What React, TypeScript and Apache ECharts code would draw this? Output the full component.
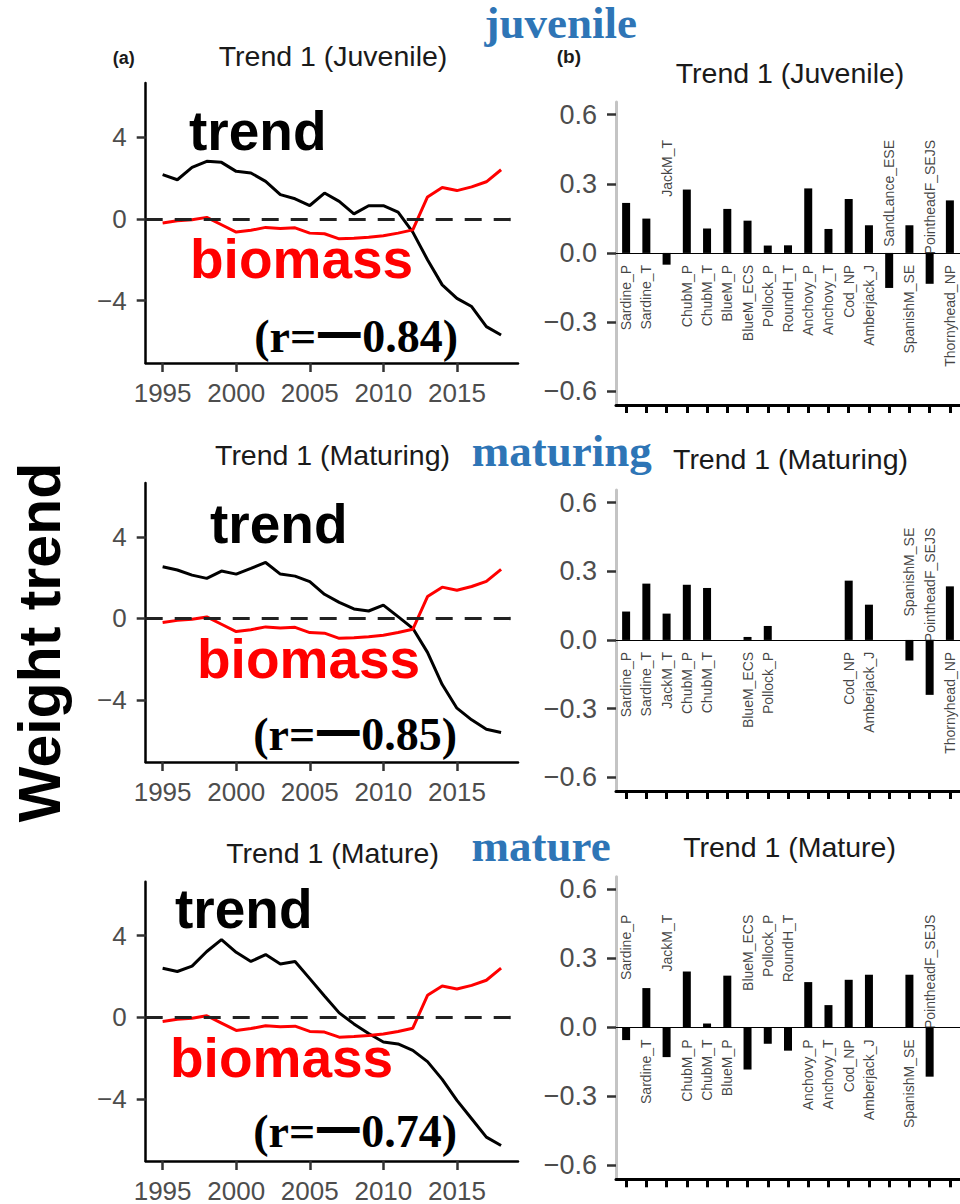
import React, { useEffect, useRef } from "react";
import * as echarts from "echarts";

// ---------- data ----------
const years = [1995, 1996, 1997, 1998, 1999, 2000, 2001, 2002, 2003, 2004, 2005, 2006, 2007, 2008, 2009, 2010, 2011, 2012, 2013, 2014, 2015, 2016, 2017, 2018];
const biomass = [-0.21, -0.1, -0.05, 0.07, -0.29, -0.65, -0.56, -0.42, -0.47, -0.44, -0.7, -0.73, -0.98, -0.95, -0.9, -0.83, -0.7, -0.54, 1.07, 1.53, 1.38, 1.56, 1.81, 2.4];
const trendJuvenile = [2.16, 1.91, 2.51, 2.81, 2.76, 2.32, 2.24, 1.83, 1.18, 0.98, 0.65, 1.26, 0.85, 0.24, 0.64, 0.64, 0.33, -0.65, -2.0, -3.23, -3.89, -4.29, -5.27, -5.68];
const trendMaturing = [2.53, 2.37, 2.12, 1.96, 2.32, 2.17, 2.45, 2.74, 2.17, 2.07, 1.8, 1.18, 0.78, 0.46, 0.36, 0.65, 0.08, -0.49, -1.67, -3.25, -4.41, -4.98, -5.44, -5.6];
const trendMature = [2.4, 2.24, 2.5, 3.22, 3.8, 3.18, 2.73, 3.07, 2.61, 2.73, 1.89, 1.04, 0.21, -0.33, -0.8, -1.22, -1.31, -1.63, -2.18, -3.05, -4.08, -4.98, -5.88, -6.29];
const yearTicks = [1995, 2000, 2005, 2010, 2015];
const lineYTicks = [-4, 0, 4];

const species = ["Sardine_P", "Sardine_T", "JackM_T", "ChubM_P", "ChubM_T", "BlueM_P", "BlueM_ECS", "Pollock_P", "RoundH_T", "Anchovy_P", "Anchovy_T", "Cod_NP", "Amberjack_J", "SandLance_ESE", "SpanishM_SE", "PointheadF_SEJS", "Thornyhead_NP"];
const loadJuvenile = [0.217, 0.149, -0.051, 0.275, 0.106, 0.191, 0.14, 0.032, 0.033, 0.28, 0.104, 0.234, 0.12, -0.152, 0.12, -0.134, 0.228];
const loadMaturing = [0.124, 0.246, 0.115, 0.241, 0.227, null, 0.013, 0.061, null, null, null, 0.259, 0.154, null, -0.09, -0.24, 0.234];
const loadMature = [-0.055, 0.171, -0.129, 0.243, 0.017, 0.225, -0.183, -0.071, -0.101, 0.197, 0.097, 0.207, 0.229, null, 0.229, -0.214, null];
const barYTicks = [-0.6, -0.3, 0, 0.3, 0.6];

const panelTitles = ["Trend 1 (Juvenile)", "Trend 1 (Maturing)", "Trend 1 (Mature)"];
const stageHeadings = ["juvenile", "maturing", "mature"];
const corrLabels = ["(r=\u4e000.84)", "(r=\u4e000.85)", "(r=\u4e000.74)"];
const trends = [trendJuvenile, trendMaturing, trendMature];
const loadings = [loadJuvenile, loadMaturing, loadMature];

// ---------- layout ----------
const lineGrids = [
  { top: 83, height: 280 },
  { top: 483, height: 279 },
  { top: 881.7, height: 280 },
];
const barGrids = [
  { top: 102, height: 303 },
  { top: 490, height: 301 },
  { top: 876.7, height: 302.6 },
];
const leftTitlePos = [[333, 66], [332.5, 465], [332.5, 863]];
const rightTitlePos = [[790, 83], [790.5, 469], [789.5, 857]];
const headingPos = [[637, 38], [651.7, 466.7], [610.7, 861.7]];
const trendPos = [[189, 150], [210, 543.3], [175, 928.3]];
const biomassPos = [[190, 278], [197, 678.3], [170, 1076.7]];
const corrPos = [[458, 352], [457, 750], [457, 1146.7]];

const SANS = "'Liberation Sans', Arial, sans-serif";
const SERIF = "'Liberation Serif', 'Times New Roman', 'Noto Sans CJK SC', serif";
const minus = (s: string) => s.replace("-", "\u2212");

function txt(text: string, x: number, baseline: number, size: number, o: any = {}) {
  const k = o.serif ? 0.338 : 0.347;
  return {
    type: "text",
    x,
    y: baseline - k * size,
    silent: true,
    style: {
      text,
      fontSize: size,
      fontFamily: o.serif ? SERIF : SANS,
      fontWeight: o.bold ? "bold" : "normal",
      fill: o.fill || "#1a1a1a",
      align: o.align || "left",
      verticalAlign: "middle",
    },
  };
}

function buildOption() {
  const grid: any[] = [];
  const xAxis: any[] = [];
  const yAxis: any[] = [];
  const series: any[] = [];
  const graphic: any[] = [];

  for (let i = 0; i < 3; i++) {
    grid.push({ left: 145.7, width: 372.3, top: lineGrids[i].top, height: lineGrids[i].height });
  }
  for (let i = 0; i < 3; i++) {
    grid.push({ left: 616, width: 345, top: barGrids[i].top, height: barGrids[i].height });
  }

  for (let i = 0; i < 3; i++) {
    xAxis.push({
      type: "value",
      gridIndex: i,
      min: 1993.85,
      max: 2019.15,
      axisLine: { show: true, onZero: false, lineStyle: { color: "#000", width: 2.5 } },
      axisTick: { show: true, customValues: yearTicks, length: 9, lineStyle: { color: "#333", width: 2.5 } },
      axisLabel: {
        show: true,
        customValues: yearTicks,
        fontSize: 26,
        color: "#4d4d4d",
        fontFamily: SANS,
        margin: 17,
        formatter: (v: number) => String(v),
      },
      splitLine: { show: false },
    });
    yAxis.push({
      type: "value",
      gridIndex: i,
      min: -7.05,
      max: 6.64,
      axisLine: { show: true, onZero: false, lineStyle: { color: "#000", width: 2.5 } },
      axisTick: { show: true, customValues: lineYTicks, length: 9, lineStyle: { color: "#333", width: 2.5 } },
      axisLabel: {
        show: true,
        customValues: lineYTicks,
        fontSize: 26,
        color: "#4d4d4d",
        fontFamily: SANS,
        margin: 19,
        formatter: (v: number) => minus(String(v)),
      },
      splitLine: { show: false },
    });
  }
  for (let i = 0; i < 3; i++) {
    xAxis.push({
      type: "category",
      gridIndex: 3 + i,
      data: species,
      boundaryGap: true,
      axisLine: { show: true, onZero: false, lineStyle: { color: "#000", width: 3 } },
      axisTick: { show: true, interval: 0, alignWithLabel: true, length: 8, lineStyle: { color: "#000", width: 3 } },
      axisLabel: { show: false, interval: 0 },
      splitLine: { show: false },
    });
    yAxis.push({
      type: "value",
      gridIndex: 3 + i,
      min: -0.66,
      max: 0.655,
      axisLine: { show: true, onZero: false, lineStyle: { color: "#c4c4c4", width: 3 } },
      axisTick: { show: true, customValues: barYTicks, length: 9, lineStyle: { color: "#333", width: 2.5 } },
      axisLabel: {
        show: true,
        customValues: barYTicks,
        fontSize: 27,
        color: "#4d4d4d",
        fontFamily: SANS,
        margin: 19,
        formatter: (v: number) => minus(v.toFixed(1)),
      },
      splitLine: { show: false },
    });
  }

  for (let i = 0; i < 3; i++) {
    series.push({
      type: "line",
      xAxisIndex: i,
      yAxisIndex: i,
      data: years.map((y, k) => [y, trends[i][k]]),
      showSymbol: false,
      symbol: "none",
      lineStyle: { color: "#000", width: 3 },
      z: 3,
      markLine: {
        silent: true,
        symbol: "none",
        label: { show: false },
        lineStyle: { color: "#222", width: 3.2, type: [17, 12] },
        data: [{ yAxis: 0 }],
      },
    });
    series.push({
      type: "line",
      xAxisIndex: i,
      yAxisIndex: i,
      data: years.map((y, k) => [y, biomass[k]]),
      showSymbol: false,
      symbol: "none",
      lineStyle: { color: "#ff0000", width: 3 },
      z: 4,
    });
  }

  for (let i = 0; i < 3; i++) {
    const vals = loadings[i];
    series.push({
      type: "bar",
      xAxisIndex: 3 + i,
      yAxisIndex: 3 + i,
      data: vals,
      barWidth: 8,
      itemStyle: { color: "#000" },
      markLine: {
        silent: true,
        symbol: "none",
        label: { show: false },
        lineStyle: { color: "#000", width: 1.2, type: "solid" },
        data: [{ yAxis: 0 }],
      },
    });
    series.push({
      type: "scatter",
      xAxisIndex: 3 + i,
      yAxisIndex: 3 + i,
      symbol: "circle",
      symbolSize: 1,
      itemStyle: { color: "rgba(0,0,0,0)" },
      silent: true,
      data: vals.map((v, j) => (v === null ? null : [j, v >= 0 ? -0.052 : 0.49])),
      label: {
        show: true,
        position: "inside",
        rotate: 90,
        align: "right",
        verticalAlign: "middle",
        fontSize: 14,
        fontFamily: SANS,
        color: "#111",
        formatter: (p: any) => species[p.data[0]],
      },
      z: 5,
    });
  }

  for (let i = 0; i < 3; i++) {
    graphic.push(txt(panelTitles[i], leftTitlePos[i][0], leftTitlePos[i][1], 28.5, { align: "center" }));
    graphic.push(txt(panelTitles[i], rightTitlePos[i][0], rightTitlePos[i][1], 28.5, { align: "center" }));
    graphic.push(txt(stageHeadings[i], headingPos[i][0], headingPos[i][1], 45, { serif: true, bold: true, fill: "#2e75b6", align: "right" }));
    graphic.push(txt("trend", trendPos[i][0], trendPos[i][1], 55, { bold: true, fill: "#000" }));
    graphic.push(txt("biomass", biomassPos[i][0], biomassPos[i][1], 55, { bold: true, fill: "#ff0000" }));
    graphic.push(txt(corrLabels[i], corrPos[i][0], corrPos[i][1], 46, { serif: true, bold: true, fill: "#000", align: "right" }));
  }
  graphic.push(txt("(a)", 112.7, 64, 18, { bold: true }));
  graphic.push(txt("(b)", 556.7, 63.3, 19, { bold: true }));
  graphic.push({
    type: "text",
    x: 60 - 0.347 * 59,
    y: 642.5,
    rotation: Math.PI / 2,
    silent: true,
    style: {
      text: "Weight trend",
      fontSize: 59,
      fontFamily: SANS,
      fontWeight: "bold",
      fill: "#000",
      align: "center",
      verticalAlign: "middle",
    },
  });

  return {
    animation: false,
    backgroundColor: "#fff",
    grid,
    xAxis,
    yAxis,
    series,
    graphic,
  };
}

export default function App() {
  const ref = useRef<HTMLDivElement>(null);
  useEffect(() => {
    if (!ref.current) return;
    const chart = echarts.init(ref.current, undefined, { renderer: "svg" });
    chart.setOption(buildOption() as any);
    return () => chart.dispose();
  }, []);
  return (
    <div
      ref={ref}
      style={{ position: "absolute", left: 0, top: 0, width: 960, height: 1204, background: "#fff" }}
    />
  );
}
